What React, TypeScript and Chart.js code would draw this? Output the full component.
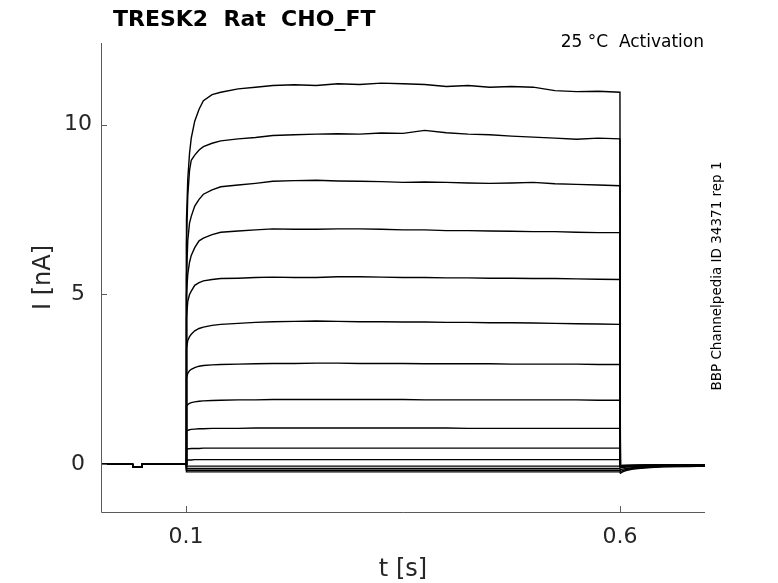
import { useEffect, useRef } from 'react';
import Chart from 'chart.js/auto';

// time points (s)
const holdTimes = [0.002, 0.0385, 0.039, 0.0485, 0.049, 0.0995, 0.1];
const sweepTimes = [
  0.1005, 0.102, 0.104, 0.106, 0.11, 0.115, 0.12, 0.13, 0.14, 0.16, 0.18,
  0.2, 0.225, 0.25, 0.275, 0.3, 0.325, 0.35, 0.375, 0.4, 0.425, 0.45, 0.475,
  0.5, 0.525, 0.55, 0.575, 0.6,
  // tail after the step
  0.6005, 0.603, 0.607, 0.615, 0.63, 0.65, 0.68, 0.698
];

// holding current before the step (nA), shared by every sweep
const holdI = [0, 0, -0.08, -0.08, 0, 0, 0];

// one array per sweep (nA): step part, then tail part
const sweep01 = [7.2, 8.4, 9.15, 9.6, 10.1, 10.45, 10.7, 10.88, 10.95, 11.05, 11.1,
  11.15, 11.17, 11.15, 11.2, 11.18, 11.22, 11.2, 11.18, 11.12, 11.15, 11.1, 11.12,
  11.1, 11.0, 10.97, 10.98, 10.95,
  -0.08, -0.07, -0.06, -0.05, -0.04, -0.03, -0.03, -0.02];
const sweep02 = [6.5, 7.9, 8.65, 8.95, 9.1, 9.25, 9.35, 9.45, 9.52, 9.58, 9.62,
  9.68, 9.7, 9.72, 9.73, 9.72, 9.75, 9.74, 9.83, 9.76, 9.72, 9.7, 9.66,
  9.63, 9.6, 9.57, 9.6, 9.58,
  -0.07, -0.06, -0.05, -0.05, -0.04, -0.03, -0.03, -0.02];
const sweep03 = [5.5, 6.6, 7.1, 7.3, 7.6, 7.8, 7.95, 8.08, 8.17, 8.22, 8.27,
  8.33, 8.35, 8.36, 8.34, 8.33, 8.32, 8.3, 8.31, 8.3, 8.28, 8.27, 8.28,
  8.3, 8.26, 8.24, 8.22, 8.2,
  -0.07, -0.06, -0.05, -0.04, -0.04, -0.03, -0.02, -0.02];
const sweep04 = [5.0, 5.6, 5.95, 6.15, 6.38, 6.58, 6.66, 6.76, 6.83, 6.87, 6.9,
  6.93, 6.92, 6.92, 6.93, 6.93, 6.92, 6.9, 6.9, 6.88, 6.88, 6.87, 6.86,
  6.85, 6.85, 6.83, 6.82, 6.82,
  -0.06, -0.06, -0.05, -0.04, -0.03, -0.03, -0.02, -0.02];
const sweep05 = [4.3, 4.8, 5.0, 5.1, 5.27, 5.35, 5.4, 5.44, 5.47, 5.48, 5.5,
  5.51, 5.5, 5.5, 5.52, 5.52, 5.51, 5.5, 5.5, 5.49, 5.49, 5.48, 5.48,
  5.47, 5.47, 5.46, 5.45, 5.44,
  -0.06, -0.05, -0.05, -0.04, -0.03, -0.03, -0.02, -0.02];
const sweep06 = [3.4, 3.65, 3.76, 3.83, 3.93, 4.0, 4.04, 4.09, 4.12, 4.15, 4.18,
  4.2, 4.21, 4.22, 4.21, 4.2, 4.2, 4.19, 4.19, 4.18, 4.18, 4.17, 4.17,
  4.16, 4.15, 4.14, 4.13, 4.12,
  -0.06, -0.05, -0.04, -0.04, -0.03, -0.02, -0.02, -0.02];
const sweep07 = [2.55, 2.68, 2.76, 2.8, 2.85, 2.89, 2.91, 2.93, 2.94, 2.95, 2.96,
  2.97, 2.97, 2.98, 2.98, 2.97, 2.97, 2.97, 2.96, 2.96, 2.96, 2.96, 2.95,
  2.95, 2.95, 2.95, 2.94, 2.94,
  -0.05, -0.05, -0.04, -0.04, -0.03, -0.02, -0.02, -0.01];
const sweep08 = [1.72, 1.76, 1.8, 1.82, 1.84, 1.86, 1.87, 1.88, 1.89, 1.9, 1.9,
  1.91, 1.91, 1.91, 1.91, 1.91, 1.91, 1.91, 1.9, 1.9, 1.9, 1.9, 1.9,
  1.9, 1.9, 1.9, 1.89, 1.89,
  -0.05, -0.04, -0.04, -0.03, -0.03, -0.02, -0.02, -0.01];
const sweep09 = [0.98, 1.0, 1.02, 1.03, 1.04, 1.05, 1.05, 1.06, 1.06, 1.06, 1.07,
  1.07, 1.07, 1.07, 1.07, 1.07, 1.07, 1.07, 1.07, 1.07, 1.06, 1.06, 1.06,
  1.06, 1.06, 1.06, 1.06, 1.06,
  -0.04, -0.04, -0.03, -0.03, -0.02, -0.02, -0.01, -0.01];
const sweep10 = [0.45, 0.46, 0.46, 0.47, 0.47, 0.47, 0.48, 0.48, 0.48, 0.48, 0.48,
  0.48, 0.48, 0.48, 0.48, 0.48, 0.48, 0.48, 0.48, 0.48, 0.48, 0.48, 0.48,
  0.48, 0.48, 0.48, 0.48, 0.48,
  -0.04, -0.03, -0.03, -0.03, -0.02, -0.02, -0.01, -0.01];
const sweep11 = [0.12, 0.13, 0.13, 0.13, 0.14, 0.14, 0.14, 0.14, 0.14, 0.14, 0.14,
  0.14, 0.14, 0.14, 0.14, 0.14, 0.14, 0.14, 0.14, 0.14, 0.14, 0.14, 0.14,
  0.14, 0.14, 0.14, 0.14, 0.14,
  -0.04, -0.03, -0.03, -0.02, -0.02, -0.01, -0.01, -0.01];
const sweep12 = [-0.05, -0.05, -0.05, -0.05, -0.05, -0.05, -0.05, -0.05, -0.05, -0.05, -0.05,
  -0.05, -0.05, -0.05, -0.05, -0.05, -0.05, -0.05, -0.05, -0.05, -0.05, -0.05, -0.05,
  -0.05, -0.05, -0.05, -0.05, -0.05,
  -0.1, -0.09, -0.08, -0.07, -0.05, -0.04, -0.03, -0.03];
const sweep13 = [-0.12, -0.12, -0.12, -0.12, -0.12, -0.12, -0.12, -0.12, -0.12, -0.12, -0.12,
  -0.12, -0.12, -0.12, -0.12, -0.12, -0.12, -0.12, -0.12, -0.12, -0.12, -0.12, -0.12,
  -0.12, -0.12, -0.12, -0.12, -0.12,
  -0.16, -0.14, -0.12, -0.1, -0.07, -0.05, -0.04, -0.04];
const sweep14 = [-0.17, -0.17, -0.17, -0.17, -0.17, -0.17, -0.17, -0.17, -0.17, -0.17, -0.17,
  -0.17, -0.17, -0.17, -0.17, -0.17, -0.17, -0.17, -0.17, -0.17, -0.17, -0.17, -0.17,
  -0.17, -0.17, -0.17, -0.17, -0.17,
  -0.21, -0.18, -0.15, -0.12, -0.09, -0.06, -0.05, -0.05];
const sweep15 = [-0.22, -0.22, -0.22, -0.22, -0.22, -0.22, -0.22, -0.22, -0.22, -0.22, -0.22,
  -0.22, -0.22, -0.22, -0.22, -0.22, -0.22, -0.22, -0.22, -0.22, -0.22, -0.22, -0.22,
  -0.22, -0.22, -0.22, -0.22, -0.22,
  -0.26, -0.22, -0.18, -0.14, -0.1, -0.07, -0.06, -0.05];

const sweeps = [sweep01, sweep02, sweep03, sweep04, sweep05, sweep06, sweep07, sweep08,
  sweep09, sweep10, sweep11, sweep12, sweep13, sweep14, sweep15];

const xTicks = [0.1, 0.6];
const xTickLabels = ['0.1', '0.6'];
const yTicks = [0, 5, 10];
const yTickLabels = ['0', '5', '10'];

const FONT = '"DejaVu Sans", Verdana, sans-serif';

const decorPlugin = {
  id: 'decor',
  afterDraw(chart: any) {
    const { ctx, chartArea, scales } = chart;
    const xs = scales.x;
    const ys = scales.y;
    const { left, right, top, bottom } = chartArea;
    ctx.save();

    // axes (box off)
    ctx.strokeStyle = '#5a5a5a';
    ctx.lineWidth = 1;
    ctx.beginPath();
    ctx.moveTo(left + 0.5, top);
    ctx.lineTo(left + 0.5, bottom + 0.5);
    ctx.lineTo(right, bottom + 0.5);
    xTicks.forEach((v) => {
      const px = Math.round(xs.getPixelForValue(v)) + 0.5;
      ctx.moveTo(px, bottom);
      ctx.lineTo(px, bottom - 6);
    });
    yTicks.forEach((v) => {
      const py = Math.round(ys.getPixelForValue(v)) + 0.5;
      ctx.moveTo(left, py);
      ctx.lineTo(left + 6, py);
    });
    ctx.stroke();

    // tick labels
    ctx.fillStyle = '#262626';
    ctx.font = `22px ${FONT}`;
    ctx.textAlign = 'center';
    ctx.textBaseline = 'alphabetic';
    xTicks.forEach((v, i) => {
      ctx.fillText(xTickLabels[i], xs.getPixelForValue(v), bottom + 31);
    });
    ctx.textBaseline = 'middle';
    yTicks.forEach((v, i) => {
      ctx.fillText(yTickLabels[i], left - 23, ys.getPixelForValue(v));
    });

    // axis labels
    ctx.font = `24px ${FONT}`;
    ctx.textBaseline = 'alphabetic';
    ctx.fillText('t [s]', (left + right) / 2, bottom + 64);
    ctx.save();
    ctx.translate(left - 57, (top + bottom) / 2);
    ctx.rotate(-Math.PI / 2);
    ctx.textBaseline = 'middle';
    ctx.fillText('I [nA]', 0, 0);
    ctx.restore();

    // title
    ctx.fillStyle = '#000';
    ctx.font = `bold 22px ${FONT}`;
    ctx.textAlign = 'left';
    ctx.fillText('TRESK2  Rat  CHO_FT', left + 12, 26);

    ctx.font = `17px ${FONT}`;
    ctx.textAlign = 'right';
    ctx.fillText('25 °C  Activation', right - 1, 47);

    ctx.save();
    ctx.translate(right + 12, 276);
    ctx.rotate(-Math.PI / 2);
    ctx.font = `13.5px ${FONT}`;
    ctx.textAlign = 'center';
    ctx.textBaseline = 'middle';
    ctx.fillText('BBP Channelpedia ID 34371 rep 1', 0, 0);
    ctx.restore();

    ctx.restore();
  }
};

export default function App() {
  const canvasRef = useRef<HTMLCanvasElement>(null);
  const chartRef = useRef<Chart | null>(null);

  useEffect(() => {
    document.body.style.margin = '0';
    if (!canvasRef.current) return;
    const ctx = canvasRef.current.getContext('2d');
    if (!ctx) return;

    if (chartRef.current) chartRef.current.destroy();

    const times = holdTimes.concat(sweepTimes);
    const datasets = sweeps.map((s) => {
      const values = holdI.concat(s);
      return {
        data: times.map((t, i) => ({ x: t, y: values[i] })),
        borderColor: '#000',
        borderWidth: 1.4,
        pointRadius: 0,
        tension: 0,
        fill: false
      };
    });

    chartRef.current = new Chart(ctx, {
      type: 'line',
      data: { datasets },
      options: {
        animation: false,
        responsive: true,
        maintainAspectRatio: false,
        layout: { padding: { left: 101, top: 43, right: 73, bottom: 71 } },
        plugins: {
          legend: { display: false },
          tooltip: { enabled: false }
        },
        scales: {
          x: { type: 'linear', min: 0.002, max: 0.698, display: false },
          y: { type: 'linear', min: -1.4, max: 12.4, display: false }
        }
      },
      plugins: [decorPlugin]
    });

    return () => {
      if (chartRef.current) {
        chartRef.current.destroy();
        chartRef.current = null;
      }
    };
  }, []);

  return (
    <div style={{ width: 778, height: 583, position: 'relative', background: '#fff' }}>
      <canvas ref={canvasRef} />
    </div>
  );
}
